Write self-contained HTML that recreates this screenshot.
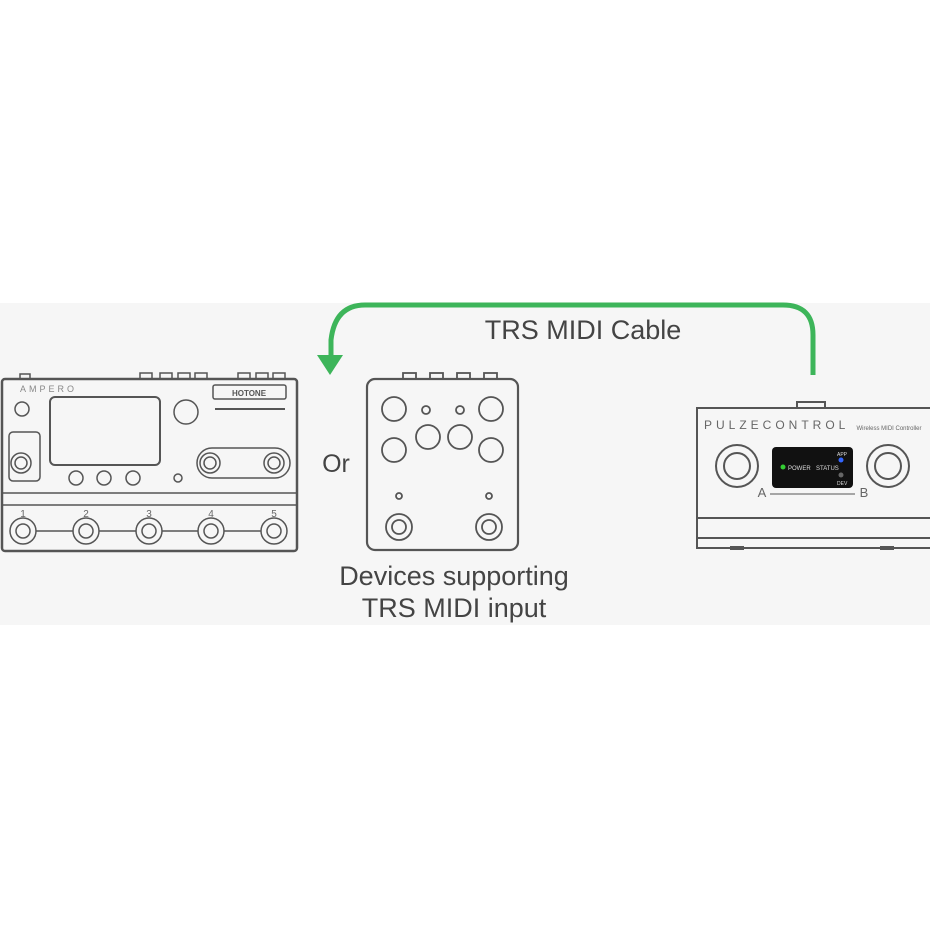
<!DOCTYPE html>
<html><head><style>
body{margin:0;background:#fff;}
svg{display:block;}
text{font-family:"Liberation Sans",sans-serif;}
</style></head><body>
<svg width="930" height="930" viewBox="0 0 930 930" xmlns="http://www.w3.org/2000/svg">
<rect x="0" y="303" width="930" height="322" fill="#f6f6f6"/>
<!-- green cable -->
<path d="M813 375 V335 Q813 305 783 305 H365 Q335 305 331 340 V358" fill="none" stroke="#3db55a" stroke-width="5"/>
<polygon points="317,355 343,355 330,375" fill="#3db55a"/>
<text x="583" y="339" font-size="27" fill="#444" text-anchor="middle">TRS MIDI Cable</text>
<text x="336" y="472" font-size="25" fill="#444" text-anchor="middle">Or</text>
<text x="454" y="585" font-size="27" fill="#444" text-anchor="middle">Devices supporting</text>
<text x="454" y="617" font-size="27" fill="#444" text-anchor="middle">TRS MIDI input</text>

<!-- Ampero -->
<g fill="none" stroke="#555" stroke-width="1.5">
<rect x="2" y="379" width="295" height="172" rx="3" stroke-width="2.5"/>
<line x1="2" y1="493" x2="297" y2="493"/><line x1="2" y1="505" x2="297" y2="505"/>
<rect x="50" y="397" width="110" height="68" rx="5" stroke-width="2"/>
<circle cx="22" cy="409" r="7"/>
<circle cx="186" cy="412" r="12"/>
<rect x="213" y="385" width="73" height="14" rx="2"/>
<line x1="215" y1="409" x2="285" y2="409" stroke-width="2"/>
<rect x="9" y="432" width="31" height="49" rx="4"/>
<circle cx="21" cy="463" r="10"/><circle cx="21" cy="463" r="6"/>
<rect x="197" y="448" width="93" height="30" rx="15"/>
<circle cx="210" cy="463" r="10"/><circle cx="210" cy="463" r="6"/>
<circle cx="274" cy="463" r="10"/><circle cx="274" cy="463" r="6"/>
<circle cx="76" cy="478" r="7"/><circle cx="104" cy="478" r="7"/><circle cx="133" cy="478" r="7"/>
<circle cx="178" cy="478" r="4"/>
<line x1="30" y1="531" x2="270" y2="531"/>
<g fill="#f6f6f6">
<circle cx="23" cy="531" r="13"/><circle cx="86" cy="531" r="13"/><circle cx="149" cy="531" r="13"/><circle cx="211" cy="531" r="13"/><circle cx="274" cy="531" r="13"/>
</g>
<circle cx="23" cy="531" r="7"/><circle cx="86" cy="531" r="7"/><circle cx="149" cy="531" r="7"/><circle cx="211" cy="531" r="7"/><circle cx="274" cy="531" r="7"/>
<rect x="140" y="373" width="12" height="6"/><rect x="160" y="373" width="12" height="6"/><rect x="178" y="373" width="12" height="6"/><rect x="195" y="373" width="12" height="6"/><rect x="238" y="373" width="12" height="6"/><rect x="256" y="373" width="12" height="6"/><rect x="273" y="373" width="12" height="6"/><rect x="20" y="374" width="10" height="5"/>
</g>
<text x="20" y="392" font-size="9" fill="#888" letter-spacing="3">AMPERO</text>
<text x="249" y="396" font-size="8" fill="#555" font-weight="bold" text-anchor="middle">HOTONE</text>
<g font-size="10" fill="#666" text-anchor="middle"><text x="23" y="517">1</text><text x="86" y="517">2</text><text x="149" y="517">3</text><text x="211" y="517">4</text><text x="274" y="517">5</text></g>

<!-- middle pedal -->
<g fill="none" stroke="#555" stroke-width="1.8">
<rect x="367" y="379" width="151" height="171" rx="8" stroke-width="2.2"/>
<rect x="403" y="373" width="13" height="6"/><rect x="430" y="373" width="13" height="6"/><rect x="457" y="373" width="13" height="6"/><rect x="484" y="373" width="13" height="6"/>
<circle cx="394" cy="409" r="12"/><circle cx="491" cy="409" r="12"/>
<circle cx="394" cy="450" r="12"/><circle cx="428" cy="437" r="12"/><circle cx="460" cy="437" r="12"/><circle cx="491" cy="450" r="12"/>
<circle cx="426" cy="410" r="4"/><circle cx="460" cy="410" r="4"/>
<circle cx="399" cy="496" r="3"/><circle cx="489" cy="496" r="3"/>
<circle cx="399" cy="527" r="13"/><circle cx="399" cy="527" r="7"/>
<circle cx="489" cy="527" r="13"/><circle cx="489" cy="527" r="7"/>
</g>

<!-- Pulze -->
<g fill="none" stroke="#555" stroke-width="2">
<rect x="697" y="408" width="240" height="110"/>
<rect x="697" y="518" width="240" height="30"/>
<line x1="697" y1="538" x2="937" y2="538"/>
<path d="M797 408 V402 h28 v6"/>
<circle cx="737" cy="466" r="21"/><circle cx="737" cy="466" r="13"/>
<circle cx="888" cy="466" r="21"/><circle cx="888" cy="466" r="13"/>
<line x1="770" y1="494" x2="855" y2="494" stroke-width="1"/>
</g>
<rect x="730" y="546" width="14" height="4" fill="#555"/><rect x="880" y="546" width="14" height="4" fill="#555"/>
<text x="704" y="429" font-size="12" fill="#666" letter-spacing="4">PULZECONTROL</text>
<text x="889" y="430" font-size="6" fill="#666" text-anchor="middle">Wireless MIDI Controller</text>
<rect x="772" y="447" width="81" height="41" rx="4" fill="#111"/>
<circle cx="783" cy="467" r="2.5" fill="#3c3"/>
<text x="788" y="470" font-size="6" fill="#ddd">POWER</text>
<text x="816" y="470" font-size="6" fill="#ddd">STATUS</text>
<circle cx="841" cy="460" r="2.5" fill="#36f"/>
<circle cx="841" cy="475" r="2.5" fill="#666"/>
<text x="837" y="456" font-size="5" fill="#ddd">APP</text>
<text x="837" y="485" font-size="5" fill="#ddd">DEV</text>
<text x="762" y="497" font-size="13" fill="#666" text-anchor="middle">A</text>
<text x="864" y="497" font-size="13" fill="#666" text-anchor="middle">B</text>
</svg>
</body></html>
